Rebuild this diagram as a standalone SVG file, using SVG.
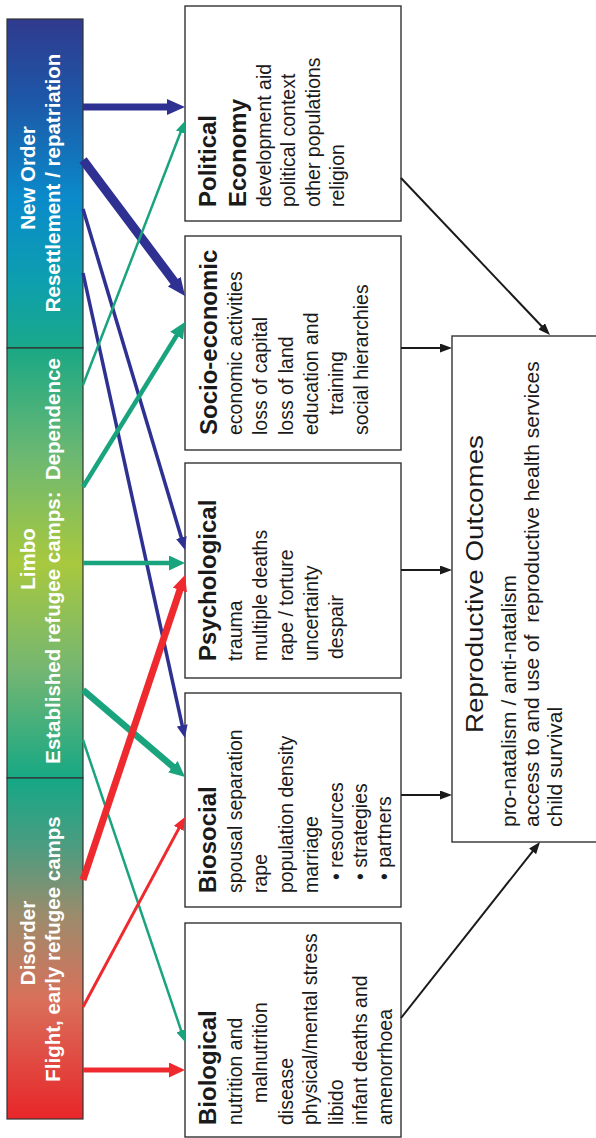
<svg xmlns="http://www.w3.org/2000/svg" width="596" height="1138" viewBox="0 0 596 1138">
<style>
text{font-family:"Liberation Sans",Arial,Helvetica,sans-serif;fill:#1a1a1a}
.bar text{fill:#ffffff;font-weight:bold;font-size:20.5px;text-anchor:middle}
.box rect{fill:#ffffff;stroke:#333333;stroke-width:1.4}
.t{font-weight:bold;font-size:24px}
.r{font-size:19.5px}
.ro{font-size:21px}
.seg{stroke:#333333;stroke-width:1.2}
.c{fill:none;stroke-linecap:butt}
.bl{stroke:#2e3192}
.te{stroke:#19a47e}
.rd{stroke:#ee2a2e}
.bk{stroke:#1a1a1a;stroke-width:2}
</style>
<defs>
<linearGradient id="gNew" x1="0" y1="0" x2="0" y2="1">
<stop offset="0" stop-color="#303a8e"/>
<stop offset="0.25" stop-color="#1d58a8"/>
<stop offset="0.55" stop-color="#0a8bca"/>
<stop offset="0.8" stop-color="#0d9fae"/>
<stop offset="1" stop-color="#1aa98a"/>
</linearGradient>
<linearGradient id="gLimbo" x1="0" y1="0" x2="0" y2="1">
<stop offset="0" stop-color="#1aa884"/>
<stop offset="0.25" stop-color="#6cb872"/>
<stop offset="0.5" stop-color="#a8c83e"/>
<stop offset="0.75" stop-color="#74b672"/>
<stop offset="1" stop-color="#17a884"/>
</linearGradient>
<linearGradient id="gDis" x1="0" y1="0" x2="0" y2="1">
<stop offset="0" stop-color="#14a886"/>
<stop offset="0.2" stop-color="#4c9c80"/>
<stop offset="0.4" stop-color="#9a8c6c"/>
<stop offset="0.65" stop-color="#d9705a"/>
<stop offset="1" stop-color="#e8262a"/>
</linearGradient>
<marker id="mBlueB" markerUnits="userSpaceOnUse" markerWidth="18" markerHeight="16" refX="1" refY="8" orient="auto"><path d="M0,0 L18,8 L0,16 Z" fill="#2e3192"/></marker>
<marker id="mBlueS" markerUnits="userSpaceOnUse" markerWidth="13" markerHeight="11" refX="1" refY="5.5" orient="auto"><path d="M0,0 L13,5.5 L0,11 Z" fill="#2e3192"/></marker>
<marker id="mTealB" markerUnits="userSpaceOnUse" markerWidth="16" markerHeight="15" refX="1" refY="7.5" orient="auto"><path d="M0,0 L16,7.5 L0,15 Z" fill="#19a47e"/></marker>
<marker id="mTealS" markerUnits="userSpaceOnUse" markerWidth="12" markerHeight="10" refX="1" refY="5" orient="auto"><path d="M0,0 L12,5 L0,10 Z" fill="#19a47e"/></marker>
<marker id="mRedB" markerUnits="userSpaceOnUse" markerWidth="16" markerHeight="15" refX="1" refY="7.5" orient="auto"><path d="M0,0 L16,7.5 L0,15 Z" fill="#ee2a2e"/></marker>
<marker id="mRedS" markerUnits="userSpaceOnUse" markerWidth="13" markerHeight="11" refX="1" refY="5.5" orient="auto"><path d="M0,0 L13,5.5 L0,11 Z" fill="#ee2a2e"/></marker>
<marker id="mBlack" markerUnits="userSpaceOnUse" markerWidth="12" markerHeight="9" refX="1" refY="4.5" orient="auto"><path d="M0,0 L12,4.5 L0,9 Z" fill="#1a1a1a"/></marker>
</defs>
<rect width="596" height="1138" fill="#ffffff"/>

<g id="phases" class="bar">
<g id="phase-new-order">
<rect class="seg" x="7" y="19" width="76" height="329" fill="url(#gNew)"/>
<text transform="translate(35,178) rotate(-90)">New Order</text>
<text transform="translate(59.5,183) rotate(-90)">Resettlement / repatriation</text>
</g>
<g id="phase-limbo">
<rect class="seg" x="7" y="348" width="76" height="430" fill="url(#gLimbo)"/>
<text transform="translate(35,559) rotate(-90)">Limbo</text>
<text transform="translate(60,561) rotate(-90)">Established refugee camps:&#160; Dependence</text>
</g>
<g id="phase-disorder">
<rect class="seg" x="7" y="778" width="76" height="341" fill="url(#gDis)"/>
<text transform="translate(34.5,943) rotate(-90)">Disorder</text>
<text transform="translate(60,949) rotate(-90)">Flight, early refugee camps</text>
</g>
</g>

<g id="node-political-economy" class="box">
<rect x="185" y="6" width="216" height="215"/>
<g transform="rotate(-90)">
<text class="t" x="-207" y="216">Political</text>
<text class="t" x="-207" y="246">Economy</text>
<text class="r" x="-207" y="270.5">development aid</text>
<text class="r" x="-207" y="295">political context</text>
<text class="r" x="-207" y="319.5">other populations</text>
<text class="r" x="-207" y="344">religion</text>
</g>
</g>

<g id="node-socio-economic" class="box">
<rect x="185" y="236" width="216" height="214"/>
<g transform="rotate(-90)">
<text class="t" x="-435" y="216.5">Socio-economic</text>
<text class="r" x="-435" y="241.7">economic activities</text>
<text class="r" x="-435" y="267">loss of capital</text>
<text class="r" x="-435" y="292.5">loss of land</text>
<text class="r" x="-435" y="317.5">education and</text>
<text class="r" x="-415" y="342.5">training</text>
<text class="r" x="-435" y="367.5">social hierarchies</text>
</g>
</g>

<g id="node-psychological" class="box">
<rect x="185" y="463" width="216" height="215"/>
<g transform="rotate(-90)">
<text class="t" x="-661" y="216">Psychological</text>
<text class="r" x="-661" y="241.7">trauma</text>
<text class="r" x="-661" y="267">multiple deaths</text>
<text class="r" x="-661" y="293">rape / torture</text>
<text class="r" x="-661" y="318">uncertainty</text>
<text class="r" x="-659" y="343">despair</text>
</g>
</g>

<g id="node-biosocial" class="box">
<rect x="185" y="693" width="216" height="214"/>
<g transform="rotate(-90)">
<text class="t" x="-893" y="216">Biosocial</text>
<text class="r" x="-893" y="241.7">spousal separation</text>
<text class="r" x="-893" y="267">rape</text>
<text class="r" x="-893" y="292.5">population density</text>
<text class="r" x="-893" y="317.5">marriage</text>
<text class="r" x="-880" y="342.5">• resources</text>
<text class="r" x="-880" y="367">• strategies</text>
<text class="r" x="-880" y="391">• partners</text>
</g>
</g>

<g id="node-biological" class="box">
<rect x="185" y="923" width="216" height="214"/>
<g transform="rotate(-90)">
<text class="t" x="-1125" y="216">Biological</text>
<text class="r" x="-1125" y="241.5">nutrition and</text>
<text class="r" x="-1103" y="267">malnutrition</text>
<text class="r" x="-1125" y="292.5">disease</text>
<text class="r" x="-1125" y="317">physical/mental stress</text>
<text class="r" x="-1125" y="342.5">libido</text>
<text class="r" x="-1125" y="367">infant deaths and</text>
<text class="r" x="-1125" y="392">amenorrhoea</text>
</g>
</g>

<g id="node-reproductive-outcomes" class="box">
<rect x="452" y="336" width="160" height="506"/>
<g transform="rotate(-90)">
<text x="-733" y="483.3" font-size="23.5" textLength="298" lengthAdjust="spacingAndGlyphs">Reproductive Outcomes</text>
<text class="ro" x="-827" y="516">pro-natalism / anti-natalism</text>
<text class="ro" x="-827" y="538.5">access to and use of&#160; reproductive health services</text>
<text class="ro" x="-827" y="562">child survival</text>
</g>
</g>

<g id="connectors">
<path class="c bl" stroke-width="7" d="M83,107 L168,107" marker-end="url(#mBlueB)"/>
<path class="c bl" stroke-width="9" d="M83,160 L174.8,282.4" marker-end="url(#mBlueB)"/>
<path class="c bl" stroke-width="3.5" d="M83,209 L181.6,538.5" marker-end="url(#mBlueS)"/>
<path class="c bl" stroke-width="3.5" d="M83,273 L182.4,726.3" marker-end="url(#mBlueS)"/>
<path class="c te" stroke-width="2.5" d="M83,385 L181,131.3" marker-end="url(#mTealS)"/>
<path class="c te" stroke-width="4.5" d="M83,487 L177.1,334.8" marker-end="url(#mTealB)"/>
<path class="c te" stroke-width="4.5" d="M83,563 L170,563" marker-end="url(#mTealB)"/>
<path class="c te" stroke-width="6.5" d="M83,690 L173.6,767.3" marker-end="url(#mTealB)"/>
<path class="c te" stroke-width="2.5" d="M83,740 L181.5,1031.6" marker-end="url(#mTealS)"/>
<path class="c rd" stroke-width="7" d="M83,880 L180.2,589.2" marker-end="url(#mRedB)"/>
<path class="c rd" stroke-width="3" d="M83,1007 L179.3,827.6" marker-end="url(#mRedS)"/>
<path class="c rd" stroke-width="5" d="M83,1070 L170,1070" marker-end="url(#mRedB)"/>
<path class="c bk" d="M401,178 L542.4,327" marker-end="url(#mBlack)"/>
<path class="c bk" d="M401,348 L441,348" marker-end="url(#mBlack)"/>
<path class="c bk" d="M401,570 L441,570" marker-end="url(#mBlack)"/>
<path class="c bk" d="M401,795 L441,795" marker-end="url(#mBlack)"/>
<path class="c bk" d="M401,1018 L533.2,850.6" marker-end="url(#mBlack)"/>
</g>
</svg>
